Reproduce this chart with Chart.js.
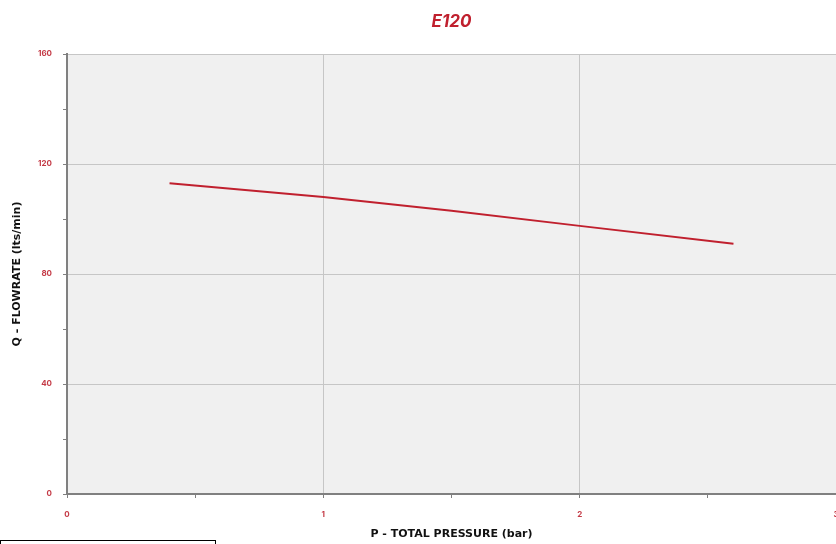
<!DOCTYPE html>
<html>
<head>
<meta charset="utf-8">
<script src="https://cdn.jsdelivr.net/npm/chart.js@4"></script>
<style>
  html, body { margin: 0; padding: 0; background: #fff; }
  #wrap { position: relative; width: 836px; height: 544px; }
  #box { position: absolute; left: 0; top: 540px; width: 216px; height: 10px; border: 1px solid #000; box-sizing: border-box; }
</style>
</head>
<body>
<div id="wrap">
  <canvas id="chart" width="836" height="544"></canvas>
  <div id="box"></div>
</div>
<script>
// ── Data ──────────────────────────────────────────────────────
const chartTitle = 'E120';
const xTitle = 'P - TOTAL PRESSURE (bar)';
const yTitle = 'Q - FLOWRATE (lts/min)';

const pressure = [0.4, 1, 1.5, 2, 2.6];
const flowrate = [113, 108, 103, 97.5, 91];

const yMajor = [0, 40, 80, 120, 160];
const xMajor = [0, 1, 2, 3];

const RED = '#c0202e';
const TICK_RED = '#c43a46';
const GRID = '#c6c6c6';
const AXIS = '#808080';

// plot area fill
const plotBg = {
  id: 'plotBg',
  beforeDraw(chart) {
    const { ctx, chartArea: a } = chart;
    ctx.save();
    ctx.fillStyle = '#f0f0f0';
    ctx.fillRect(a.left, a.top, a.right - a.left, a.bottom - a.top);
    ctx.restore();
  },
};

const isMajor = (list, v) => list.some(m => Math.abs(m - v) < 1e-9);
const titleFont = { family: '"DejaVu Sans", sans-serif', size: 11, weight: 'bold' };

new Chart(document.getElementById('chart').getContext('2d'), {
  type: 'line',
  data: {
    datasets: [{
      label: chartTitle,
      data: pressure.map((p, i) => ({ x: p, y: flowrate[i] })),
      borderColor: RED,
      borderWidth: 2,
      pointRadius: 0,
      tension: 0,
    }],
  },
  options: {
    responsive: false,
    animation: false,
    layout: { padding: { top: 0, right: 0, bottom: 0, left: 0 } },
    plugins: {
      legend: { display: false },
      tooltip: { enabled: false },
      title: {
        display: true,
        text: chartTitle,
        color: RED,
        fullSize: false,
        font: { family: 'Inter, sans-serif', size: 17, weight: 'bold', style: 'italic' },
        padding: { top: 12, bottom: 21.6 },
      },
    },
    scales: {
      x: {
        type: 'linear',
        min: 0, max: 3,
        afterFit: s => { s.height = 50; s.paddingRight = 0; s.paddingLeft = 0; },
        ticks: {
          stepSize: 0.5,
          color: TICK_RED,
          padding: 12,
          maxRotation: 0,
          font: { family: 'Inter, sans-serif', size: 8, weight: 'bold' },
          callback: v => isMajor(xMajor, v) ? String(v) : '',
        },
        grid: {
          color: ctx => isMajor(xMajor, ctx.tick.value) ? GRID : 'transparent',
          tickColor: AXIS,
          tickLength: 4,
        },
        border: { color: AXIS, width: 2 },
        title: {
          display: true,
          text: xTitle,
          color: '#111',
          font: titleFont,
          padding: { top: 0, bottom: 3 },
        },
      },
      y: {
        min: 0, max: 160,
        afterFit: s => { s.width = 67; s.paddingTop = 0; s.paddingBottom = 0; },
        ticks: {
          stepSize: 20,
          color: TICK_RED,
          padding: 11,
          font: { family: 'Inter, sans-serif', size: 8, weight: 'bold' },
          callback: v => isMajor(yMajor, v) ? String(v) : '',
        },
        grid: {
          color: ctx => isMajor(yMajor, ctx.tick.value) ? GRID : 'transparent',
          tickColor: AXIS,
          tickLength: 4,
        },
        border: { color: AXIS, width: 2 },
        title: {
          display: true,
          text: yTitle,
          color: '#111',
          font: titleFont,
          padding: { top: 11, bottom: 0 },
        },
      },
    },
  },
  plugins: [plotBg],
});
</script>
</body>
</html>
